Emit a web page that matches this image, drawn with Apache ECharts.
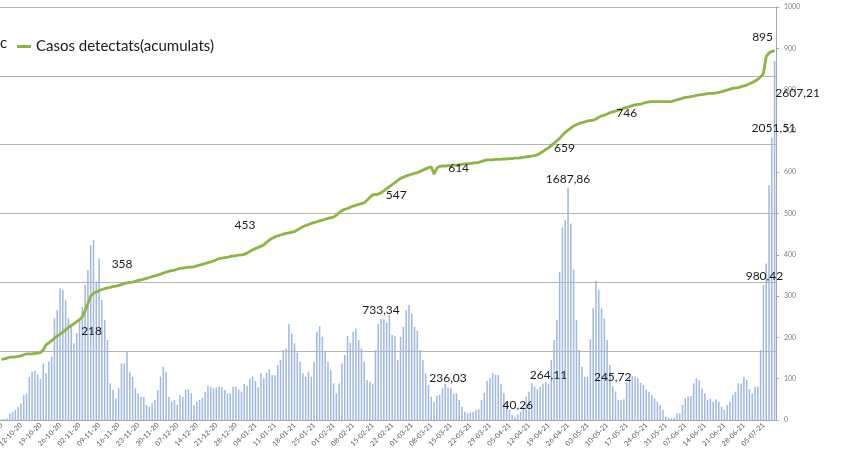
<!DOCTYPE html>
<html>
<head>
<meta charset="utf-8">
<script src="https://cdn.jsdelivr.net/npm/echarts@6/dist/echarts.min.js"></script>
<style>
  html, body { margin: 0; padding: 0; background: #fff; }
  #chart { width: 844px; height: 475px; }
</style>
</head>
<body>
<div id="chart"></div>
<script>
// dies: del 05-10-20 al 09-07-21, un valor per dia
const startDay = new Date(2020, 9, 5);
const dayCount = 278;
const days = [];
for (let i = 0; i < dayCount; i++) {
  const d = new Date(startDay.getFullYear(), startDay.getMonth(), startDay.getDate() + i);
  const dd = String(d.getDate()).padStart(2, '0');
  const mm = String(d.getMonth() + 1).padStart(2, '0');
  const yy = String(d.getFullYear()).slice(2);
  days.push(dd + '-' + mm + '-' + yy);
}

// barres (eix esquerre, 0-3000)
const incidencia = [
  5, 8, 10, 48, 60, 72, 97, 120, 180, 190,
  315, 350, 358, 335, 300, 411, 340, 423, 460, 738,
  800, 956, 944, 871, 738, 678, 557, 630, 726, 823,
  980, 1089, 1270, 1307, 1004, 1174, 871, 726, 581, 266,
  218, 157, 230, 411, 411, 496, 351, 315, 230, 194,
  169, 169, 109, 97, 121, 145, 218, 315, 387, 351,
  169, 133, 145, 109, 182, 169, 218, 223, 194, 109,
  133, 145, 160, 206, 247, 242, 230, 237, 242, 237,
  218, 194, 194, 242, 242, 223, 206, 261, 247, 300,
  315, 283, 237, 339, 303, 344, 368, 327, 327, 399,
  436, 508, 520, 697, 629, 557, 489, 424, 339, 315,
  351, 315, 424, 641, 682, 605, 496, 424, 363, 266,
  194, 266, 411, 472, 610, 561, 641, 665, 581, 520,
  424, 290, 278, 261, 508, 697, 733.34, 731, 707, 762,
  617, 610, 436, 605, 678, 799, 835, 774, 678, 649,
  508, 436, 339, 254, 169, 133, 174, 182, 230, 261,
  236.03, 230, 189, 194, 145, 97, 60, 48, 53, 58,
  73, 77, 145, 198, 286, 303, 339, 327, 327, 261,
  194, 133, 73, 36, 24, 40.26, 60, 97, 169, 206,
  266, 242, 223, 242, 266, 278, 264.11, 436, 581, 726,
  1077, 1399, 1452, 1687.86, 1428, 1094, 726, 508, 387, 315,
  315, 586, 811, 1012, 944, 811, 738, 581, 399, 245.72,
  206, 145, 145, 150, 271, 315, 319, 315, 303, 271,
  254, 218, 206, 182, 157, 133, 109, 73, 24, 17,
  12, 19, 48, 48, 109, 157, 169, 174, 266, 303,
  290, 230, 194, 145, 157, 133, 150, 133, 97, 73,
  109, 133, 182, 206, 266, 266, 315, 290, 223, 194,
  242, 242, 508, 980.42, 1137, 1706, 2051.51, 2607.21
];

// línia verda (eix dret, 0-1000)
const acumulats = [
  147, 148, 150, 152, 152, 153, 154, 155, 158, 160,
  160, 160, 161, 162, 163, 170, 182, 187, 192, 198,
  203, 208, 213, 218, 224, 229, 233, 238, 243, 250,
  265, 282, 300, 307, 310, 313, 316, 318, 320, 321,
  323, 324, 326, 328, 330, 332, 333, 334, 336, 338,
  339, 341, 343, 345, 347, 349, 351, 353, 356, 358,
  360, 362, 363, 365, 367, 368, 369, 370, 370, 371,
  373, 375, 377, 379, 381, 383, 385, 388, 391, 392,
  393, 394, 396, 397, 398, 399, 400, 401, 404, 408,
  412, 415, 418, 421, 424, 430, 436, 440, 443, 446,
  448, 450, 452, 453, 455, 456, 460, 464, 468, 471,
  473, 476, 478, 480, 482, 484, 486, 488, 490, 491,
  496, 502, 507, 510, 512, 515, 518, 520, 522, 524,
  526, 532, 539, 545, 546, 547, 550, 555, 560, 565,
  570, 575, 580, 585, 588, 591, 593, 595, 597, 599,
  602, 605, 608, 611, 613, 595, 610, 614, 615, 615,
  616, 616, 617, 617, 618, 619, 620, 621, 621, 622,
  623, 624, 626, 628, 630, 630, 630, 631, 631, 631,
  632, 632, 633, 633, 634, 634, 635, 636, 637, 638,
  639, 640, 642, 646, 650, 655, 659, 665, 670, 676,
  682, 690, 696, 702, 707, 712, 715, 718, 720, 722,
  724, 725, 726, 729, 733, 736, 738, 741, 744, 746,
  748, 750, 752, 755, 757, 759, 761, 763, 764, 765,
  767, 769, 770, 771, 771, 771, 771, 771, 771, 771,
  771, 773, 775, 777, 779, 781, 782, 783, 784, 786,
  787, 788, 789, 790, 791, 791, 792, 793, 795, 797,
  799, 801, 803, 804, 805, 807, 809, 811, 814, 817,
  821, 825, 831, 839, 880, 889, 892, 895
];

// dies amb etiqueta
const barNotes = [136, 160, 185, 196, 203, 219, 273, 276, 277];
const lineNotes = [23, 59, 103, 135, 157, 196, 219, 277];

// desplaçament de cada etiqueta (px)
const barNoteOffset = [[0, -9], [0, -9], [0, -9], [0, -9], [0, -9], [0, -9], [1, -9], [2, -9], [23, 32]];
const lineNoteOffset = [[26, 1], [-44, -8], [-44, -8], [18, 1], [19, 2], [16, 0], [14, 1], [-12, -13]];

const fmt = v => String(v).replace('.', ',');

function notes(idx, values, offsets) {
  return idx.map((i, k) => ({
    name: fmt(values[i]),
    coord: [days[i], values[i]],
    label: { offset: offsets[k] }
  }));
}

const noteStyle = {
  symbol: 'circle',
  symbolSize: 1,
  itemStyle: { color: 'rgba(0,0,0,0)' },
  label: {
    show: true,
    position: 'inside',
    formatter: p => p.name,
    color: '#1a1a1a',
    fontSize: 12,
    fontFamily: 'Lato'
  }
};

const chart = echarts.init(document.getElementById('chart'));
chart.setOption({
  animation: false,
  backgroundColor: '#fff',
  grid: { left: 0, right: 68, top: 7, bottom: 55, outerBoundsMode: 'none' },
  legend: {
    data: ['Casos detectats(acumulats)'],
    left: 12,
    top: 34,
    icon: 'rect',
    itemWidth: 14,
    itemHeight: 3,
    textStyle: { fontSize: 15, fontFamily: 'Lato', color: '#1a1a1a' }
  },
  graphic: [{
    type: 'text',
    left: 0,
    top: 36,
    style: { text: 'c', fontSize: 15, fontFamily: 'Lato', fill: '#1a1a1a' }
  }],
  xAxis: {
    type: 'category',
    data: days,
    axisLine: { lineStyle: { color: '#a6a6a6' } },
    axisTick: { show: false },
    axisLabel: { interval: 6, rotate: 45, fontSize: 7, color: '#595959', margin: 4, fontFamily: 'Lato' }
  },
  yAxis: [
    {
      type: 'value', min: 0, max: 3000, interval: 500,
      axisLabel: { show: false },
      axisLine: { show: false },
      axisTick: { show: false },
      splitLine: { lineStyle: { color: '#b3b3b3', width: 1.2 } }
    },
    {
      type: 'value', position: 'right', min: 0, max: 1000, interval: 100,
      axisLine: { show: true, lineStyle: { color: '#a6a6a6' } },
      axisTick: { show: true, length: 3, lineStyle: { color: '#a6a6a6' } },
      axisLabel: { fontSize: 7, color: '#7f7f7f', margin: 8, fontFamily: 'Lato', formatter: v => String(v) },
      splitLine: { show: false }
    }
  ],
  series: [
    {
      name: 'Incidència',
      type: 'bar',
      yAxisIndex: 0,
      data: incidencia,
      barWidth: '55%',
      itemStyle: { color: '#a0b9e0' },
      markPoint: Object.assign({ data: notes(barNotes, incidencia, barNoteOffset) }, noteStyle)
    },
    {
      name: 'Casos detectats(acumulats)',
      type: 'line',
      yAxisIndex: 1,
      data: acumulats,
      showSymbol: false,
      color: '#8db444',
      lineStyle: { width: 2.8, color: '#8db444' },
      markPoint: Object.assign({ data: notes(lineNotes, acumulats, lineNoteOffset) }, noteStyle)
    }
  ]
});
</script>
</body>
</html>
